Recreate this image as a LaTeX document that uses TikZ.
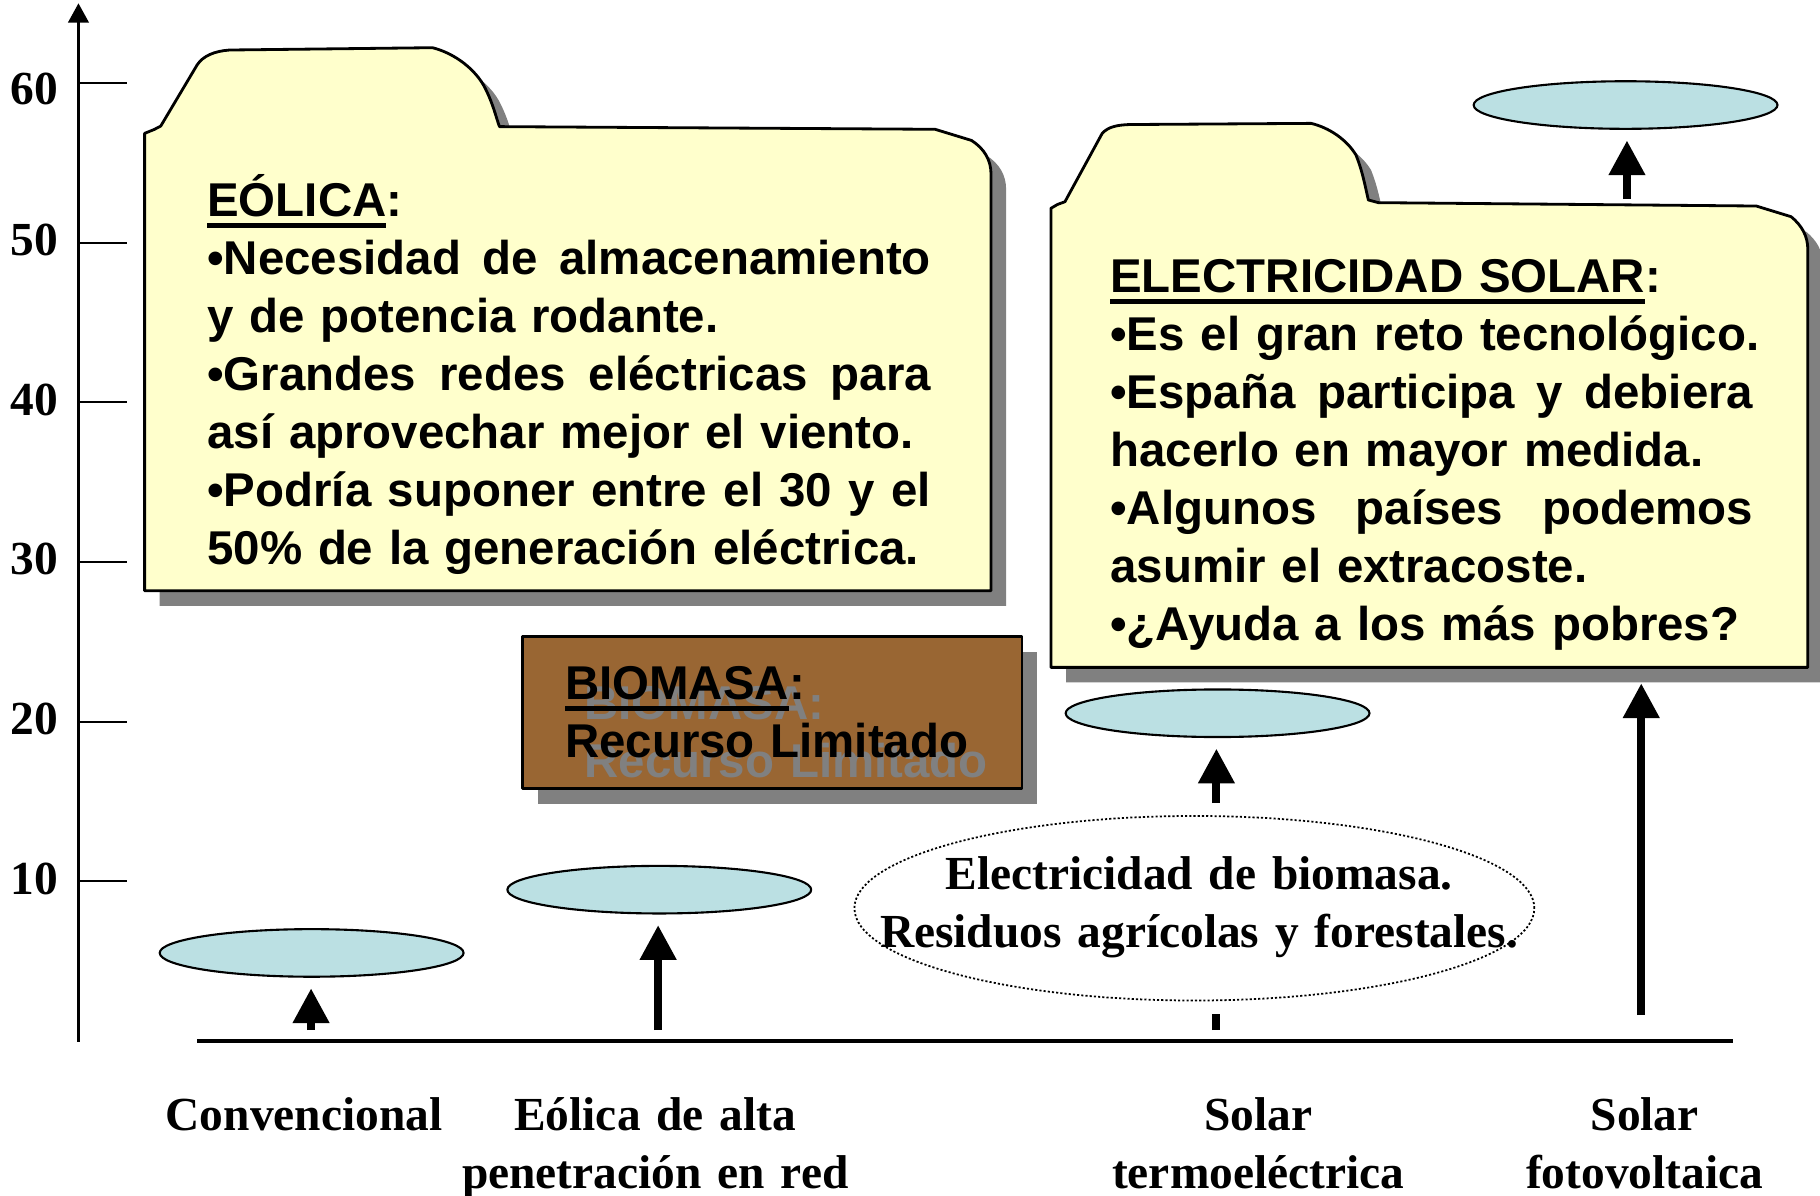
\documentclass[tikz,border=0pt]{standalone}
\usepackage{fontspec}
\setmainfont{Liberation Serif}
\setsansfont{Liberation Sans}
\usetikzlibrary{arrows.meta,shapes.geometric,shadows}
\hyphenpenalty=10000

\newsavebox{\subbox}
\newcommand{\subraya}[1]{\sbox{\subbox}{#1}\rlap{\rule[-3.1pt]{\wd\subbox}{1.4pt}}\usebox{\subbox}}
\newcommand{\ancho}[2]{{\spaceskip=0pt\xspaceskip=0pt\makebox[#1][s]{#2}}}

%Outlines of the two folders
\newcommand{\carpetaeolica}{(124.6,509) -- (124.6,114.9) -- (133,111.5) -- (138.5,108.6) -- (169.8,56) .. controls (175,48) and (185,44) .. (197.8,43.1) -- (372.6,41.1) .. controls (392,46) and (410,60) .. (418,76) .. controls (425,90) and (427,100) .. (430.3,109.1) -- (805.6,111.4) -- (837,121) .. controls (848,128) and (853.8,138) .. (853.8,150) -- (853.8,509) -- cycle}
\newcommand{\carpetasolar}{(905.4,575) -- (905.4,179.5) -- (911,176.2) -- (917.5,173.8) -- (949.6,114.9) .. controls (955,109) and (963,107.7) .. (973.1,107.3) -- (1129.6,106.3) .. controls (1145,110) and (1160,120) .. (1168.2,133.5) .. controls (1174,148) and (1176,160) .. (1178.9,172.3) -- (1187.5,174.6) -- (1513.1,177.5) -- (1543.1,186.7) .. controls (1552,194) and (1557.5,203) .. (1557.5,215) -- (1557.5,575) -- cycle}

\begin{document}
\begin{tikzpicture}
	[x=0.0116071cm,y=-0.0116071cm,line join=round,
	%Styles
	eje/.style={line width=0.6pt},
	carpeta/.style={draw,line width=0.8pt,fill=amarillo},
	sombra/.style={fill=gris},
	nivel/.style={ellipse,draw,line width=0.6pt,fill=celeste,inner sep=0pt,minimum width=3.04cm,minimum height=0.476cm},
	flecha/.style={line width=2.3pt,-{Triangle[width=9.9pt,length=9.9pt]},shorten >=3pt},
	rotulo/.style={font=\rmfamily\bfseries\fontsize{13.5pt}{16.5pt}\selectfont,text width=200pt,align=center,inner sep=0pt,anchor=base},
	numero/.style={font=\rmfamily\bfseries\fontsize{13.5pt}{16.5pt}\selectfont,inner sep=0pt,anchor=base},
	vineta/.style={font=\sffamily\bfseries\fontsize{13.5pt}{16.5pt}\selectfont,inner sep=0pt,anchor=base west},
	caja/.style={draw,line width=0.8pt,fill=marron,minimum width=4.999cm,minimum height=1.517cm,
		drop shadow={shadow xshift=4.4pt,shadow yshift=-4.4pt,fill=gris,opacity=1}}
	]
	
	%Colors
	\definecolor{amarillo}{HTML}{FFFFCC}
	\definecolor{celeste}{HTML}{BBE0E3}
	\definecolor{marron}{HTML}{996633}
	\definecolor{gris}{HTML}{808080}
	
	\useasboundingbox (0,0) rectangle (1568,1030);
	
	%Axes
	\coordinate (origen) at (67.6,897.5);
	\coordinate (cima) at (67.6,2.9);
	\coordinate (xa) at (170,897);
	\coordinate (xb) at (1493,897);
	\draw[eje,-{Triangle[width=5.9pt,length=5.5pt]}] (origen) -- (cima);
	\draw[line width=1pt] (xa) -- (xb);
	\foreach \v/\d in {10/11,20/11,30/11,40/11,50/11,60/19}{
		\draw[eje] (67.6,{897-13.76*\v}) -- ++(41.5,0);
		\node[numero] (n\v) at (29.5,{897+\d-13.76*\v}) {\v};
	}
	
	%Folders
	\fill[sombra,shift={(13,13)}] \carpetaeolica;
	\draw[carpeta] \carpetaeolica;
	\fill[sombra,shift={(13,13)}] \carpetasolar;
	\draw[carpeta] \carpetasolar;
	
	\node[vineta,text width=206pt] (teolica) at (178,186.7) {\subraya{EÓLICA}:\\
		\ancho{206pt}{•Necesidad de almacenamiento}\\
		y de potencia rodante.\\
		\ancho{206pt}{•Grandes redes eléctricas para}\\
		así aprovechar mejor el viento.\\
		\ancho{206pt}{•Podría suponer entre el 30 y el}\\
		50\% de la generación eléctrica.};
	\node[vineta,text width=183pt] (tsolar) at (956,252.2) {\subraya{ELECTRICIDAD SOLAR}:\\
		\mbox{•Es el gran reto tecnológico.}\\
		\ancho{183pt}{•España participa y debiera}\\
		hacerlo en mayor medida.\\
		\ancho{183pt}{•Algunos países podemos}\\
		asumir el extracoste.\\
		•¿Ayuda a los más pobres?};
	
	%Biomass box
	\node[caja] (biomasa) at (665.2,613.9) {};
	\node[vineta,text=gris,text width=130pt] (sbiomasa) at (503,620) {BIOMASA:\\Recurso Limitado};
	\node[vineta,text width=130pt] (tbiomasa) at (486.2,603) {\subraya{BIOMASA}:\\Recurso Limitado};
	
	%Levels
	\node[nivel] (conv) at (268.5,821) {};
	\node[nivel] (eol) at (568,766.5) {};
	\node[nivel] (termo) at (1049,614.5) {};
	\node[nivel] (foto) at (1400.5,90.5) {};
	
	\coordinate (b1) at (268,887.4);
	\coordinate (b2) at (567,887.4);
	\coordinate (b3) at (1048,887.4);
	\coordinate (b3c) at (1048,874);
	\coordinate (b3t) at (1048,692);
	\coordinate (b4) at (1414,874.5);
	\coordinate (t4) at (1414,588.7);
	\coordinate (b5) at (1401.7,171.5);
	
	\draw[flecha] (b1) -- (b1 |- conv.south);
	\draw[flecha] (b2) -- (b2 |- eol.south);
	\draw[line width=2.3pt] (b3) -- (b3c);
	\draw[flecha] (b3t) -- (b3t |- termo.south);
	\draw[flecha,shorten >=0pt] (b4) -- (t4);
	\draw[flecha] (b5) -- (b5 |- foto.south);
	
	%Biomass electricity
	\node[ellipse,draw,fill=white,line width=0.5pt,dash pattern=on 0.6pt off 0.6pt,minimum width=6.802cm,minimum height=1.846cm] (bioelec) at (1029,782.5) {};
	\node[rotulo] (tbioelec) at (1033,766) {Electricidad de biomasa.\\Residuos agrícolas y forestales.};
	
	%Labels
	\node[rotulo] (lconv) at (262,973.6) {Convencional};
	\node[rotulo] (leol) at (564.5,973.6) {Eólica de alta\\penetración en red};
	\node[rotulo] (lterm) at (1084,973.6) {Solar\\termoeléctrica};
	\node[rotulo] (lfoto) at (1417,973.6) {Solar\\fotovoltaica};
\end{tikzpicture}
\end{document}
